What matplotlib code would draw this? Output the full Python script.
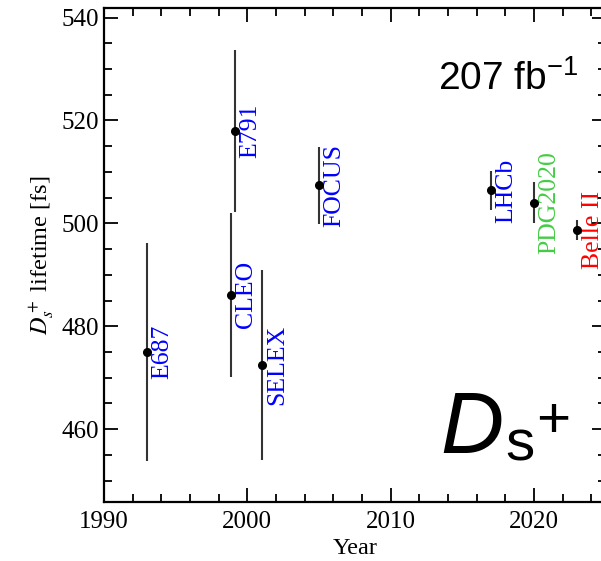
import matplotlib
matplotlib.use("Agg")
import matplotlib.pyplot as plt
from matplotlib.ticker import MultipleLocator

# Data
experiments = ["E687", "E791", "CLEO", "SELEX", "FOCUS", "LHCb", "PDG2020", "Belle II"]
years = [1993.0, 1999.15, 1998.85, 2001.0, 2005.0, 2017.0, 2020.0, 2023.0]
lifetimes = [475.0, 518.0, 486.1, 472.5, 507.4, 506.4, 504.0, 498.7]
errors = [21.2, 15.7, 15.9, 18.4, 7.5, 3.8, 4.0, 1.9]
label_colors = ["blue", "blue", "blue", "blue", "blue", "blue", "#44cc44", "red"]

plt.rcParams["font.family"] = ["Liberation Serif", "DejaVu Serif"]
plt.rcParams["mathtext.fontset"] = "custom"
plt.rcParams["mathtext.rm"] = "Liberation Sans"
plt.rcParams["mathtext.it"] = "Liberation Sans:italic"

fig = plt.figure(figsize=(6.01, 5.61), dpi=100)
ax = fig.add_axes([0.173, 0.1057, 0.8347, 0.8795])

ax.errorbar(years, lifetimes, yerr=errors, fmt="o", color="black", ecolor="#333333",
            elinewidth=1.5, markersize=5.5, capsize=0, zorder=3)

for name, x, y, c in zip(experiments, years, lifetimes, label_colors):
    ax.annotate(name, (x, y), xytext=(3.3, 0), textcoords="offset points",
                rotation=90, ha="left", va="center", color=c, fontsize=18.5)

ax.set_xlim(1990, 2025)
ax.set_ylim(445.9, 541.8)
ax.xaxis.set_major_locator(MultipleLocator(10))
ax.xaxis.set_minor_locator(MultipleLocator(2))
ax.yaxis.set_major_locator(MultipleLocator(20))
ax.yaxis.set_minor_locator(MultipleLocator(5))
ax.tick_params(which="both", direction="in", top=True, right=True, labelsize=18, width=1.3)
ax.tick_params(axis="x", which="both", pad=7)
ax.tick_params(which="major", length=10)
ax.tick_params(which="minor", length=6)
for sp in ax.spines.values():
    sp.set_linewidth(1.6)

ax.set_xlabel("Year", fontsize=17.5, labelpad=3)
ax.set_ylabel(r"$D_s^+$ lifetime [fs]", fontsize=17.5, math_fontfamily="stix", labelpad=4)

ax.text(0.945, 0.857, r"207 fb$^{\mathregular{-1}}$", transform=ax.transAxes, ha="right",
        va="center", fontsize=28, family="Liberation Sans", color="black")

# Big particle label
ax.text(0.670, 0.0987, "D", transform=ax.transAxes, ha="left", va="baseline",
        fontsize=63, family="Liberation Sans", style="italic", color="black")
ax.text(0.801, 0.0825, "s", transform=ax.transAxes, ha="left", va="baseline",
        fontsize=42, family="Liberation Sans", color="black")
ax.text(0.862, 0.1303, "+", transform=ax.transAxes, ha="left", va="baseline",
        fontsize=42, family="Liberation Sans", color="black")

fig.savefig("out.png", dpi=100)
